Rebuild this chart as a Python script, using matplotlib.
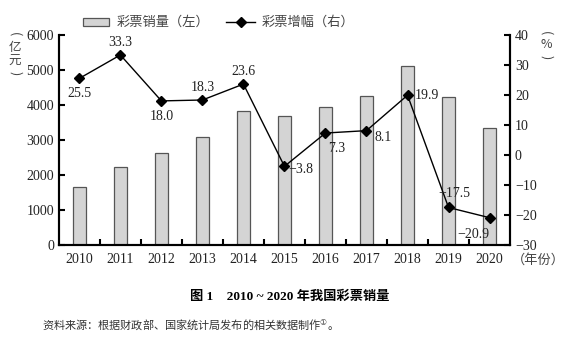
import matplotlib.pyplot as plt
import numpy as np
from matplotlib.patches import Rectangle
from matplotlib.lines import Line2D

years = [2010, 2011, 2012, 2013, 2014, 2015, 2016, 2017, 2018, 2019, 2020]
sales = [1662, 2216, 2615, 3093, 3824, 3679, 3947, 4267, 5115, 4221, 3340]
growth = [25.5, 33.3, 18.0, 18.3, 23.6, -3.8, 7.3, 8.1, 19.9, -17.5, -20.9]
# where each growth label sits: (dx, dy) in points
label_pos = [(0, -11), (0, 9), (0, -11), (0, 9), (0, 9), (12, -2),
             (8, -11), (12, -5), (14, 0), (4, 10), (-12, -12)]

num_font = 'Liberation Serif'
cjk = ['Noto Sans CJK SC', 'DejaVu Sans']
grey = '#222222'
txt_grey = '#444444'

fig = plt.figure(figsize=(5.77, 3.63), dpi=100)
ax = fig.add_axes([0.102, 0.325, 0.782, 0.579])
x = np.arange(len(years))

ax.bar(x, sales, width=0.32, color='#d4d4d4', edgecolor='#555555', linewidth=0.9, zorder=2)
ax.set_xlim(-0.5, len(years) - 0.5)
ax.set_ylim(0, 6000)
ax.set_yticks(range(0, 6001, 1000))
ax.set_xticks(x)
ax.set_xticklabels([str(y) for y in years])
ax.set_xticks(np.arange(-0.5, len(years), 1.0)[1:-1], minor=True)
ax.tick_params(axis='x', which='major', length=0, pad=6)
ax.tick_params(axis='x', which='minor', direction='in', length=4, width=1.5)
ax.tick_params(axis='y', direction='in', length=4, width=1.5)

ax2 = ax.twinx()
ax2.plot(x, growth, color='black', linewidth=1.0, marker='D', markersize=5.5, zorder=3)
ax2.set_ylim(-30, 40)
ax2.set_yticks(range(-30, 41, 10))
ax2.set_yticklabels([str(v).replace('-', '\u2212') for v in range(-30, 41, 10)])
ax2.tick_params(axis='y', direction='in', length=4, width=1.5)

for i, (v, (dx, dy)) in enumerate(zip(growth, label_pos)):
    ax2.annotate(f'{v:.1f}'.replace('-', '\u2212'), (x[i], v), xytext=(dx, dy),
                 textcoords='offset points', ha='center', va='center',
                 fontsize=10, family=num_font, color=grey)

for a in (ax, ax2):
    for s in a.spines.values():
        s.set_linewidth(1.5)
    a.spines['top'].set_visible(False)
    for lab in a.get_xticklabels() + a.get_yticklabels():
        lab.set_family(num_font)
        lab.set_fontsize(10)
        lab.set_color(grey)

# legend drawn by hand above the axes
fig.patches.append(Rectangle((83 / 577, 1 - 26 / 363), 26 / 577, 8 / 363, transform=fig.transFigure,
                             facecolor='#d4d4d4', edgecolor='#555555', linewidth=0.9))
fig.text(117 / 577, 1 - 22 / 363, '彩票销量（左）', family=cjk, fontsize=9.5, va='center', color=txt_grey)
fig.lines.append(Line2D([226 / 577, 255 / 577], [1 - 22 / 363] * 2, transform=fig.transFigure,
                        color='black', linewidth=1.0))
fig.lines.append(Line2D([240.5 / 577], [1 - 22 / 363], transform=fig.transFigure,
                        color='black', marker='D', markersize=5.5))
fig.text(262 / 577, 1 - 22 / 363, '彩票增幅（右）', family=cjk, fontsize=9.5, va='center', color=txt_grey)


def vlabel(xp, ys, chars):
    for yp, ch in zip(ys, chars):
        rot = 90 if ch in '()' else 0
        fig.text(xp / 577, 1 - yp / 363, ch, family=cjk, fontsize=9, ha='center', va='center',
                 rotation=-rot, color=txt_grey)


vlabel(15, [34, 47, 61, 73], ['(', '亿', '元', ')'])
vlabel(546, [33, 45, 57], ['(', '%', ')'])
fig.text(538 / 577, 1 - 260 / 363, '（年份）', family=cjk, fontsize=9.5, ha='center', va='center', color=txt_grey)

fig.text(290 / 577, 1 - 297 / 363, '图 1    2010 ~ 2020 年我国彩票销量', family=['Liberation Serif', 'Noto Sans CJK SC'],
         fontsize=9.5, fontweight='bold', ha='center', va='center')
fig.text(42 / 577, 1 - 325 / 363, '资料来源：根据财政部、国家统计局发布的相关数据制作$^{①}$。', family=cjk,
         fontsize=8, ha='left', va='center', color='#333333')

fig.savefig('out.png', dpi=100)
